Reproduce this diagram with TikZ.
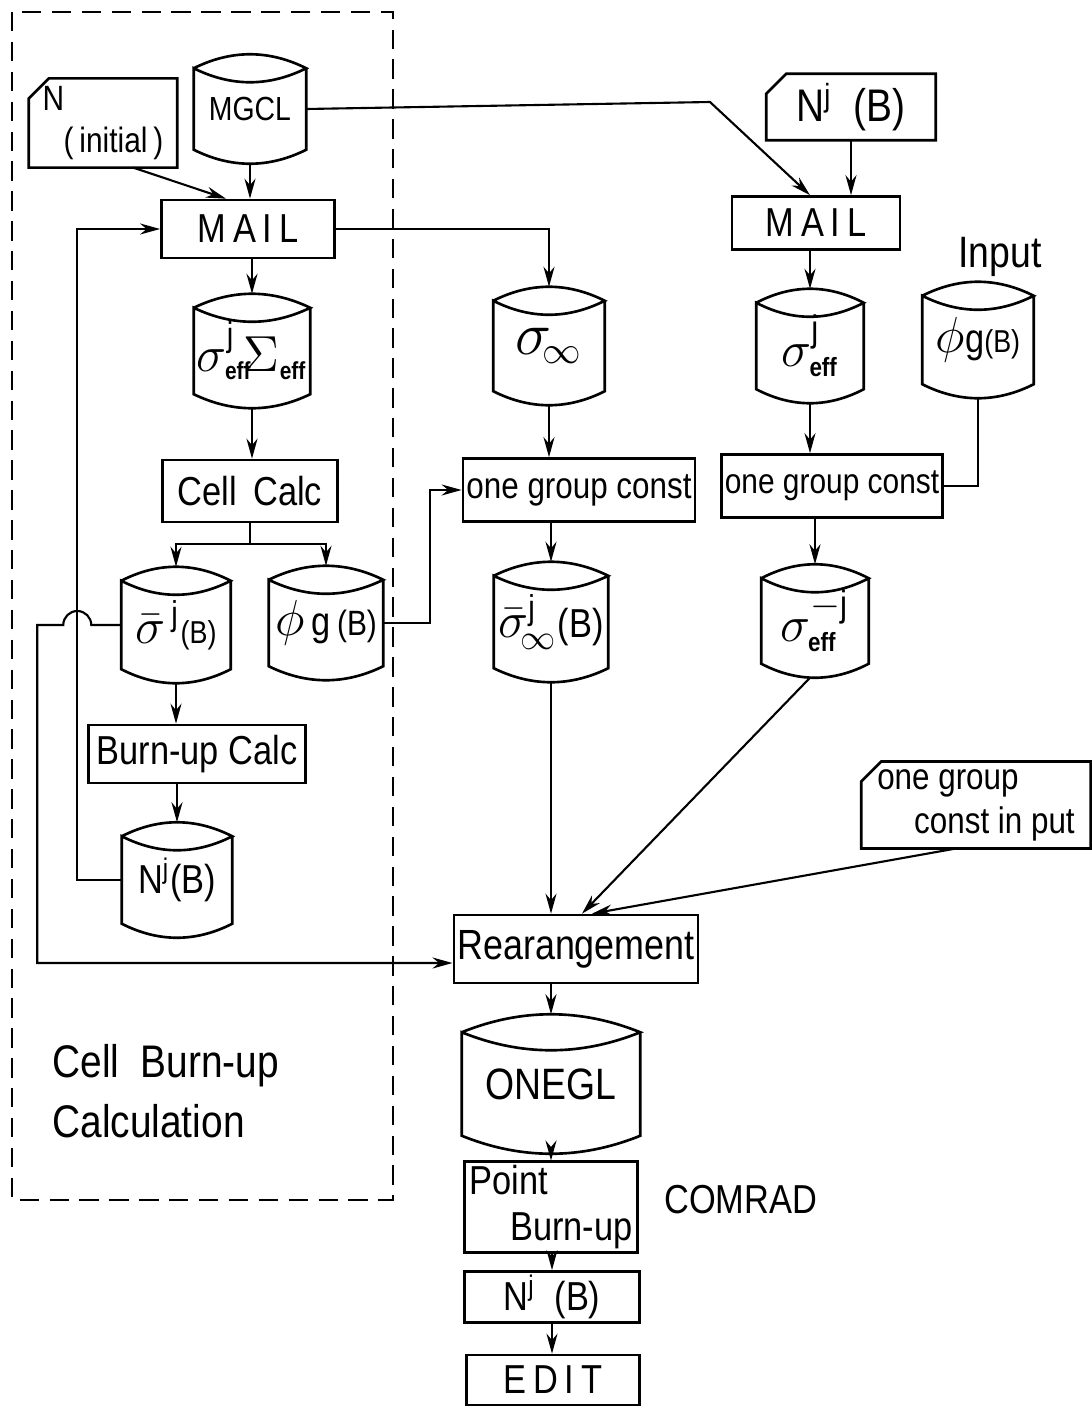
\documentclass[tikz,border=0pt]{standalone}
\usepackage{amsmath}
\usepackage{fontspec}
\setmainfont[FakeStretch=0.85]{Liberation Sans}
\usetikzlibrary{calc, arrows.meta, positioning}

% outline of a data drum (disk file) round a node
\newcommand{\drumoutline}[2][14]{%
  \draw[shapeline] ($(#2.north west)+(0,#1)$)
    .. controls ($(#2.north west)!0.333!(#2.north east)+(0,-#1/3)$)
       and ($(#2.north west)!0.667!(#2.north east)+(0,-#1/3)$) .. ($(#2.north east)+(0,#1)$)
    .. controls ($(#2.north west)!0.667!(#2.north east)+(0,#1*2.333)$)
       and ($(#2.north west)!0.333!(#2.north east)+(0,#1*2.333)$) .. ($(#2.north west)+(0,#1)$)
    -- ($(#2.south west)+(0,-#1)$)
    .. controls ($(#2.south west)!0.333!(#2.south east)+(0,#1/3)$)
       and ($(#2.south west)!0.667!(#2.south east)+(0,#1/3)$) .. ($(#2.south east)+(0,-#1)$)
    -- ($(#2.north east)+(0,#1)$);}
% outline of an input card round a node
\newcommand{\cardoutline}[1]{%
  \draw[shapeline] ($(#1.north west)+(0,20)$) -- ($(#1.north west)+(20,0)$)
    -- (#1.north east) -- (#1.south east) -- (#1.south west) -- cycle;}

\begin{document}
\begin{tikzpicture}[x=0.01cm, y=-0.01cm,
    shapeline/.style={line width=0.75pt},
    box/.style={draw, line width=0.75pt, inner sep=1pt, font=\fontsize{11.5}{13}\selectfont},
    drum/.style={inner sep=0pt, font=\fontsize{11.5}{13}\selectfont,
      execute at begin node={\lower2.5pt\hbox\bgroup}, execute at end node={\egroup}},
    card/.style={inner sep=2pt, font=\fontsize{11.5}{13}\selectfont},
    arrow/.style={-{Stealth[length=2mm, width=1.1mm]}, line width=0.6pt},
    link/.style={line width=0.6pt},
    frame/.style={line width=0.6pt, dash pattern=on 5.5pt off 3pt}
]
\useasboundingbox (0,0) rectangle (1092,1409);

% cell burn-up part
\node[drum, minimum width=1.11cm, minimum height=1.08cm, font=\fontsize{9.5}{11}\selectfont] (mgcl) at (250,109) {MGCL};
\node[card, minimum width=1.47cm, minimum height=0.80cm, align=left, font=\fontsize{10}{12}\selectfont] (ninit) at (103,123) {N\\\hspace*{6pt}(\,initial\,)};
\node[box, minimum width=1.73cm, minimum height=0.58cm] (mailL) at (248,229) {M\,A\,I\,L};
\node[drum, minimum width=1.15cm, minimum height=1.13cm] (effL) at (252,351) {\fontsize{14}{15}\selectfont$\sigma^{\mathrm{j}}_{\scriptscriptstyle\textbf{eff}}\!\Sigma_{\scriptscriptstyle\textbf{eff}}$};
\node[box, minimum width=1.75cm, minimum height=0.62cm] (cell) at (250,491) {Cell~\,Calc};
\node[drum, minimum width=1.08cm, minimum height=1.15cm] (sbarL) at (176,625) {{\fontsize{14}{15}\selectfont$\bar{\sigma}^{\,\mathrm{j}}$}{\fontsize{9}{10}\selectfont(B)}};
\node[drum, minimum width=1.13cm, minimum height=1.13cm] (phiL) at (326,623) {{\fontsize{14}{15}\selectfont$\phi$}\,g\,{\fontsize{10}{11}\selectfont(B)}};
\node[box, minimum width=2.17cm, minimum height=0.58cm] (burn) at (197,754) {Burn-up Calc};
\node[drum, minimum width=1.09cm, minimum height=1.14cm] (njL) at (177,880) {N\textsuperscript{j}(B)};
\node[anchor=north west, align=left, font=\fontsize{13}{17}\selectfont] (cellburn) at (40,1032) {Cell\ \ Burn-up\\Calculation};

% infinite medium part
\node[drum, minimum width=1.10cm, minimum height=1.17cm] (siginf) at (549,346) {\fontsize{16}{18}\selectfont$\sigma_{\!\infty}$};
\node[box, minimum width=2.18cm, minimum height=0.63cm, font=\fontsize{10.5}{12}\selectfont] (ogcL) at (579,490) {one group const};
\node[drum, minimum width=1.13cm, minimum height=1.19cm] (sbarinf) at (551,622) {{\fontsize{14}{15}\selectfont$\bar{\sigma}^{\mathrm{j}}_{\!\infty}$}(B)};

% given burn-up part
\node[card, minimum width=1.68cm, minimum height=0.65cm, font=\fontsize{13}{15}\selectfont] (njR) at (851,107) {N\textsuperscript{j}\ \ (B)};
\node[box, minimum width=1.68cm, minimum height=0.53cm] (mailR) at (816,223) {M\,A\,I\,L};
\node[drum, minimum width=1.06cm, minimum height=1.13cm] (effR) at (810,346) {\fontsize{15}{16}\selectfont$\sigma^{\mathrm{j}}_{\scriptscriptstyle\textbf{eff}}$};
\node[drum, minimum width=1.10cm, minimum height=1.15cm] (phiIn) at (978,340) {{\fontsize{14}{15}\selectfont$\phi$}g{\fontsize{9}{10}\selectfont(B)}};
\node[font=\fontsize{12.5}{14}\selectfont] (input) at (1000,257) {Input};
\node[box, minimum width=2.21cm, minimum height=0.63cm, font=\fontsize{10}{12}\selectfont] (ogcR) at (832,486) {one group const};
\node[drum, minimum width=1.06cm, minimum height=1.12cm] (sbareff) at (815,621) {\fontsize{15}{16}\selectfont$\sigma^{-\mathrm{j}}_{\scriptscriptstyle\textbf{eff}}$};
\node[card, minimum width=2.28cm, minimum height=0.84cm, align=left, font=\fontsize{10.5}{12.5}\selectfont] (ogcIn) at (976,805) {one group\\\quad const in put};

% common part
\node[box, minimum width=2.42cm, minimum height=0.68cm, font=\fontsize{12}{14}\selectfont] (rearr) at (576,949) {Rearangement};
\node[drum, minimum width=1.77cm, minimum height=1.38cm, font=\fontsize{12.5}{14}\selectfont] (onegl) at (551,1084) {ONEGL};
\node[box, minimum width=1.73cm, minimum height=0.75cm, align=left] (point) at (551,1207) {Point\\\quad Burn-up};
\node[right, font=\fontsize{11.5}{13}\selectfont] (comrad) at (652,1200) {COMRAD};
\node[box, minimum width=1.75cm, minimum height=0.51cm] (njB) at (552,1297) {N\textsuperscript{j}\ \ (B)};
\node[box, minimum width=1.73cm, minimum height=0.50cm] (edit) at (553,1380) {E\,D\,I\,T};

\foreach \d in {mgcl, effL, sbarL, phiL, njL, siginf, sbarinf, effR, phiIn, sbareff}
  {\drumoutline{\d}}
\drumoutline[18]{onegl}
\foreach \c in {ninit, njR, ogcIn}
  {\cardoutline{\c}}

\draw[frame] (12,12) rectangle (393,1200);

% connectors
\draw[arrow] (mgcl.south) -- (mgcl.south |- mailL.north);
\draw[arrow] ($(ninit.south)+(30,0)$) -- ($(mailL.north)+(-22,0)$);
\draw[arrow] (effL.north |- mailL.south) -- (effL.north);
\draw[arrow] (effL.south) -- (effL.south |- cell.north);
\draw[arrow] (cell.south) -- ++(0,21) -| (sbarL.north);
\draw[arrow] (cell.south) -- ++(0,21) -| (phiL.north);
\draw[arrow] (sbarL.south) -- (sbarL.south |- burn.north);
\draw[arrow] (njL.north |- burn.south) -- (njL.north);
\draw[arrow] (njL.west) -- ++(-45,0) |- (mailL.west);
\draw[arrow] (sbarL.west) -- ++(-30,0) arc[start angle=0, end angle=-180, radius=14]
  -- ++(-26,0) |- ($(rearr.west)+(0,14)$);
\draw[arrow] (phiL.east) -- ++(47,0) |- (ogcL.west);

\draw[arrow] (mailL.east) -| (siginf.north);
\draw[arrow] (siginf.south) -- (siginf.south |- ogcL.north);
\draw[arrow] (sbarinf.north |- ogcL.south) -- (sbarinf.north);
\draw[arrow] (sbarinf.south) -- (sbarinf.south |- rearr.north);

\coordinate (kink) at (710,102);
\draw[arrow] (mgcl.east) -- (kink) -- ($(mailR.north)+(-6,0)$);
\draw[arrow] (njR.south) -- (njR.south |- mailR.north);
\draw[arrow] (effR.north |- mailR.south) -- (effR.north);
\draw[arrow] (effR.south) -- (effR.south |- ogcR.north);
\draw[link] (phiIn.south) |- (ogcR.east);
\draw[arrow] (sbareff.north |- ogcR.south) -- (sbareff.north);
\draw[arrow] ($(sbareff.south)+(-5,0)$) -- ($(rearr.north)+(6,0)$);
\draw[arrow] ($(ogcIn.south)+(-20,0)$) -- ($(rearr.north)+(16,0)$);

\draw[arrow] (onegl.north |- rearr.south) -- (onegl.north);
\draw[arrow] (onegl.south) -- (onegl.south |- point.north);
\draw[arrow] (njB.north |- point.south) -- (njB.north);
\draw[arrow] (njB.south) -- (njB.south |- edit.north);
\end{tikzpicture}
\end{document}
